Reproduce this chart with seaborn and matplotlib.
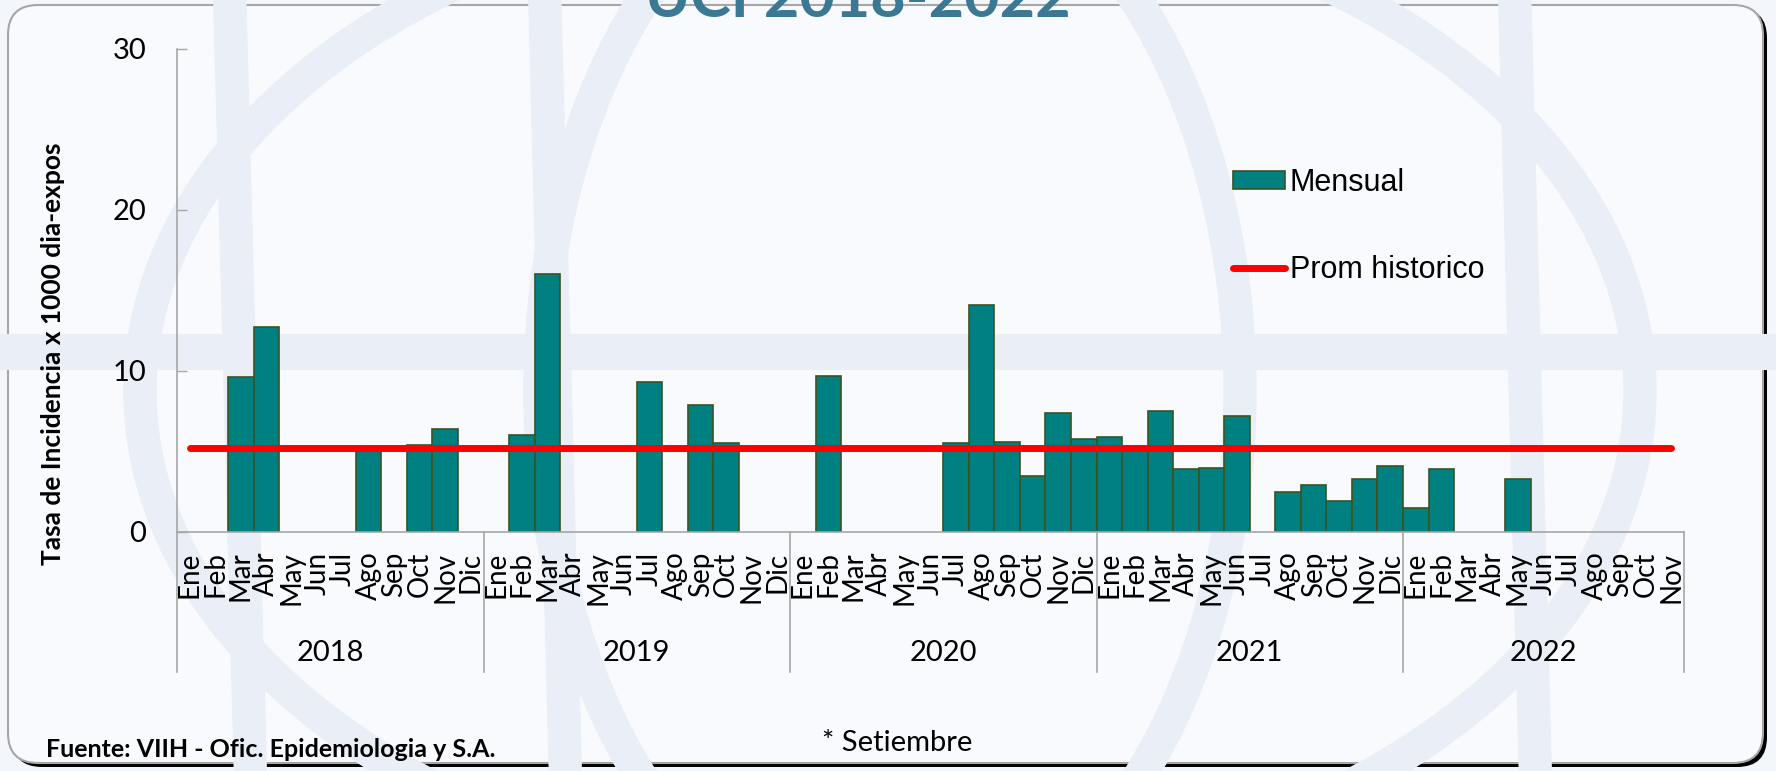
import numpy as np
import pandas as pd
import seaborn as sns
import matplotlib.pyplot as plt
from matplotlib.patches import FancyBboxPatch, Patch, Ellipse
from matplotlib.lines import Line2D
from matplotlib.transforms import IdentityTransform, blended_transform_factory

nan = np.nan

meses = ["Ene", "Feb", "Mar", "Abr", "May", "Jun", "Jul", "Ago", "Sep", "Oct", "Nov", "Dic"]
anios = ["2018", "2019", "2020", "2021", "2022"]

# tasa mensual por año (vacío = sin casos)
m2018 = [nan, nan, 9.6, 12.7, nan, nan, nan, 5.1, nan, 5.4, 6.4, nan]
m2019 = [nan, 6.0, 16.0, nan, nan, nan, 9.3, nan, 7.9, 5.5, nan, nan]
m2020 = [nan, 9.7, nan, nan, nan, nan, 5.5, 14.1, 5.6, 3.5, 7.4, 5.8]
m2021 = [5.9, 5.2, 7.5, 3.9, 4.0, 7.2, nan, 2.5, 2.9, 1.9, 3.3, 4.1]
m2022 = [1.5, 3.9, nan, nan, 3.3, nan, nan, nan, nan, nan, nan]
prom_historico = 5.2

series = [m2018, m2019, m2020, m2021, m2022]
rows = []
for anio, vals in zip(anios, series):
    for mes, v in zip(meses, vals):
        rows.append({"key": anio + "-" + mes, "anio": anio, "mes": mes, "valor": v})
df = pd.DataFrame(rows)
keys = list(df["key"])
n = len(keys)

teal = "#008080"
edge = "#3B5323"

W, H = 1776, 771
fig = plt.figure(figsize=(W / 100, H / 100), dpi=100)
fig.patch.set_facecolor("#F3F6FB")

# marco redondeado con sombra
ident = IdentityTransform()
fig.add_artist(FancyBboxPatch((12, 4), 1755, 759, boxstyle="round,pad=0,rounding_size=30",
                              transform=ident, facecolor="black", edgecolor="none", zorder=0))
fig.add_artist(FancyBboxPatch((8, 8), 1755, 758, boxstyle="round,pad=0,rounding_size=30",
                              transform=ident, facecolor="#F8FAFD", edgecolor="#A6A6A6", lw=1.5, zorder=1))

# marca de agua (globo)
wm = "#E9EEF7"
for x in [230, 545, 1515]:
    fig.add_artist(Line2D([x, x + 20], [763, 12], transform=ident, color=wm, lw=24, zorder=2))
fig.add_artist(Line2D([10, 1760], [H - 352, H - 352], transform=ident, color=wm, lw=26, zorder=2))
fig.add_artist(Ellipse((890, 380), 1500, 1000, transform=ident, fill=False, edgecolor=wm, lw=24, zorder=2))
fig.add_artist(Ellipse((890, 380), 700, 1100, transform=ident, fill=False, edgecolor=wm, lw=24, zorder=2))

ax = fig.add_axes([177 / W, 1 - 532 / H, (1684 - 177) / W, (532 - 48.7) / H])
ax.set_zorder(5)
ax.patch.set_alpha(0)

sns.barplot(data=df, x="key", y="valor", order=keys, color=teal, saturation=1, width=1,
            edgecolor=edge, linewidth=1.2, errorbar=None, ax=ax)
ax.hlines(prom_historico, 0, n - 1, color="#FF0000", lw=5, capstyle="round", zorder=4)

ax.set_xlim(-0.5, n - 0.5)
ax.set_ylim(0, 30)
ax.set_yticks([0, 10, 20, 30])
ax.set_xticks(range(n))
ax.set_xticklabels(df["mes"], rotation=90, fontsize=20, family="Lato")
for lab in ax.get_yticklabels():
    lab.set_family("Lato")
ax.tick_params(axis="y", direction="in", length=7, width=1, color="#A6A6A6", labelsize=21, pad=22)
ax.tick_params(axis="x", length=0, pad=14)
ax.set_xlabel("")
ax.set_ylabel("")
for s in ["top", "right"]:
    ax.spines[s].set_visible(False)
for s in ["left", "bottom"]:
    ax.spines[s].set_color("#A6A6A6")
    ax.spines[s].set_linewidth(1.2)

# separadores y etiquetas de año
tr = blended_transform_factory(ax.transData, ax.transAxes)
low = -(672 - 532) / (532 - 48.7)
inicio = 0
for anio, vals in zip(anios, series):
    fin = inicio + len(vals)
    ax.plot([inicio - 0.5, inicio - 0.5], [0, low], transform=tr, color="#A6A6A6", lw=1.2, clip_on=False)
    ax.text((inicio + fin - 1) / 2, -0.25, anio, transform=tr, ha="center", va="center",
            fontsize=21, family="Lato")
    inicio = fin
ax.plot([n - 0.5, n - 0.5], [0, low], transform=tr, color="#A6A6A6", lw=1.2, clip_on=False)

fig.text(53 / W, 1 - 354 / H, "Tasa de Incidencia x 1000 dia-expos", rotation=90, ha="center",
         va="center", fontsize=19, fontweight="bold", family="Lato")

handles = [Patch(facecolor=teal, edgecolor=edge, lw=1.2, label="Mensual"),
           Line2D([], [], color="#FF0000", lw=5, solid_capstyle="round", label="Prom historico")]
fig.legend(handles=handles, loc="upper left", bbox_to_anchor=(1233 / W, 1 - 168 / H), frameon=False,
           prop={"family": "Liberation Sans", "size": 22}, handlelength=1.7, handleheight=0.55,
           handletextpad=0.15, labelspacing=1.86, borderpad=0, borderaxespad=0)

fig.text(46 / W, 1 - 757 / H, "Fuente: VIIH - Ofic. Epidemiologia y S.A.", ha="left", va="baseline",
         fontsize=18, fontweight="bold", family="Lato")
fig.text(897 / W, 1 - 743 / H, "* Setiembre", ha="center", va="center", fontsize=21, family="Lato")
fig.text(858 / W, 1 - 17 / H, "UCI 2018-2022", ha="center", va="baseline", fontsize=44,
         fontweight="bold", family="Lato", color="#3B7893", zorder=3)

fig.savefig("out.png", dpi=100)
